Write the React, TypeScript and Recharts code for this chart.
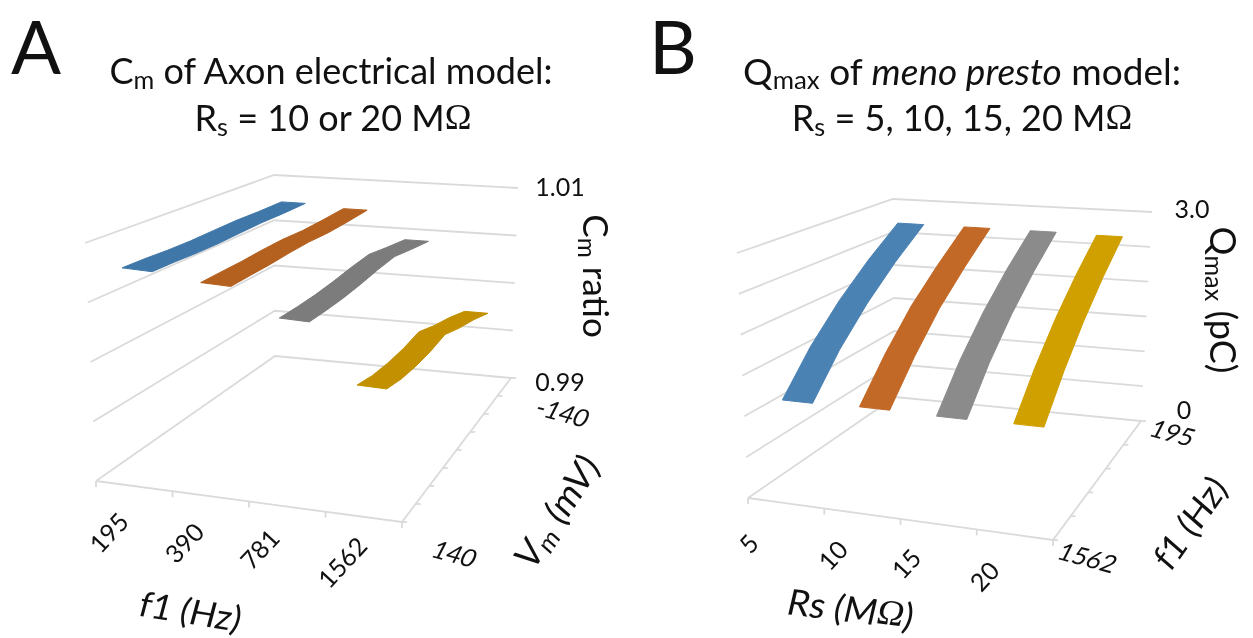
import React from "react";
import { ScatterChart, Scatter, XAxis, YAxis } from "recharts";

const W = 1253;
const H = 638;
const FONT = "Lato, 'Open Sans', sans-serif";

// Panel A data
const f1A = [195, 390, 781, 1562];
const vmA = [-140, -100, -60, -20, 20, 60, 100, 140];
const cm195 = [1.00768, 1.00767, 1.00773, 1.00768, 1.00762, 1.00765, 1.00775, 1.00778];
const cm390 = [1.00738, 1.00731, 1.0073, 1.00745, 1.00745, 1.00738, 1.00739, 1.00738];
const cm781 = [1.00452, 1.005, 1.00551, 1.00541, 1.00522, 1.00512, 1.00513, 1.00521];
const cm1562 = [0.99748, 0.9984, 0.99909, 0.99991, 0.99971, 0.99973, 0.99992, 1.00034];
const cmMin = 0.99;
const cmMax = 1.01;

// Panel B data
const rsB = [5, 10, 15, 20];
const f1B = ["195", "", "", "", "1562"];
const q5 = [2.74, 2.385, 2.01, 1.6, 1.13];
const q10 = [2.74, 2.38, 2.02, 1.6, 1.15];
const q15 = [2.74, 2.39, 2.02, 1.61, 1.14];
const q20 = [2.73, 2.38, 2.01, 1.6, 1.15];
const qMin = 0;
const qMax = 3;

const coloursA = ["#3f77a8", "#b4601f", "#7c7c7c", "#c29000"];
const coloursB = ["#4b82b4", "#c36927", "#8b8b8b", "#d0a000"];

type P = [number, number];
type Box = { fl: P; fr: P; bl: P; br: P; tfl: P; tfr: P; tbl: P; tbr: P };

const boxA: Box = { fl: [96, 481], fr: [402, 522], bl: [275, 356], br: [511, 378], tfl: [85, 243], tfr: [405, 285], tbl: [274, 175], tbr: [518, 188] };
const boxB: Box = { fl: [748, 498], fr: [1053, 540], bl: [895, 397], br: [1141, 421], tfl: [737, 253], tfr: [1068, 278], tbl: [893, 199], tbr: [1152, 212] };

const mix = (a: P, b: P, t: number): P => [a[0] + (b[0] - a[0]) * t, a[1] + (b[1] - a[1]) * t];
const project = (b: Box, u: number, v: number, h: number) => {
  const floor = mix(mix(b.fl, b.fr, u), mix(b.bl, b.br, u), v);
  const top = mix(mix(b.tfl, b.tfr, u), mix(b.tbl, b.tbr, u), v);
  const p = mix(floor, top, h);
  return { x: p[0], y: p[1] };
};

const NoDot = () => <g />;
const GRID = "#dadada";

const seg = (key: string, pts: { x: number; y: number }[], stroke = GRID, width = 1.8) => (
  <Scatter key={key} data={pts} shape={NoDot} isAnimationActive={false} line={{ stroke, strokeWidth: width, fill: "none" }} />
);

const ribbon = (key: string, box: Box, u: number, half: number, vs: number[], hs: number[], colour: string) => {
  const a = vs.map((v, i) => project(box, u - half, v, hs[i]));
  const c = vs.map((v, i) => project(box, u + half, v, hs[i])).reverse();
  return (
    <Scatter
      key={key}
      data={[...a, ...c, a[0]]}
      shape={NoDot}
      isAnimationActive={false}
      line={{ fill: colour, stroke: colour, strokeWidth: 1, strokeLinejoin: "round" }}
    />
  );
};

const mark = (key: string, x: number, y: number, node: React.ReactNode, size: number, rotate = 0, skew = 0) => (
  <Scatter
    key={key}
    data={[{ x, y }]}
    isAnimationActive={false}
    shape={(p: any) => (
      <text
        transform={`translate(${p.cx},${p.cy}) rotate(${rotate}) skewX(${skew})`}
        textAnchor="middle"
        dominantBaseline="central"
        fontFamily={FONT}
        fontSize={size}
        fill="#111"
      >
        {node}
      </text>
    )}
  />
);

const rich = (lead: string, sub: string, rest: React.ReactNode, size: number) => (
  <>
    {lead}
    <tspan dy={size * 0.25} fontSize={size * 0.7}>{sub}</tspan>
    <tspan dy={-size * 0.25}>{rest}</tspan>
  </>
);
const Ohm = () => <tspan fontFamily="'Liberation Serif', serif">Ω</tspan>;

const wall = (prefix: string, box: Box, levels: number) => {
  const out: React.ReactNode[] = [];
  for (let i = 0; i <= levels; i++) {
    const h = i / levels;
    out.push(seg(`${prefix}-l${i}`, [project(box, 0, 0, h), project(box, 0, 1, h), project(box, 1, 1, h)]));
  }
  out.push(seg(`${prefix}-front`, [project(box, 0, 0, 0), project(box, 1, 0, 0), project(box, 1, 1, 0)]));
  return out;
};

const ticks = (prefix: string, box: Box, nu: number, nv: number) => {
  const out: React.ReactNode[] = [];
  for (let i = 0; i <= nu; i++) {
    const p = project(box, i / nu, 0, 0);
    out.push(seg(`${prefix}-tu${i}`, [p, { x: p.x, y: p.y + 6 }]));
  }
  for (let j = 0; j <= nv; j++) {
    const p = project(box, 1, j / nv, 0);
    out.push(seg(`${prefix}-tv${j}`, [p, { x: p.x + 5, y: p.y }]));
  }
  return out;
};

const normA = (v: number) => (v - cmMin) / (cmMax - cmMin);
const normB = (v: number) => (v - qMin) / (qMax - qMin);
const vsA = vmA.map((_, i) => 1 - (i + 0.5) / vmA.length);
const vsB = f1B.map((_, j) => 1 - (j + 0.5) / f1B.length);
const seriesA = [cm195, cm390, cm781, cm1562];
const seriesB = [q5, q10, q15, q20];

const labelOffsetsA: P[] = [[-26, 46], [-27, 46], [-28, 42], [-22, 45]];
const labelOffsetsB: P[] = [[-38, 40], [-30, 41], [-33, 39], [-31, 41]];
const TICK = 25;

export default function App() {
  return (
    <div style={{ position: "absolute", left: 0, top: 0, width: W, height: H, background: "#fff", filter: "blur(0.45px)" }}>
      <ScatterChart width={W} height={H} margin={{ top: 0, right: 0, bottom: 0, left: 0 }}>
        <XAxis type="number" dataKey="x" domain={[0, W]} hide />
        <YAxis type="number" dataKey="y" domain={[0, H]} reversed hide />

        {wall("a", boxA, 4)}
        {ticks("a", boxA, f1A.length, vmA.length)}
        {wall("b", boxB, 6)}
        {ticks("b", boxB, rsB.length, f1B.length)}

        {seriesA.map((s, i) => ribbon(`ra${i}`, boxA, (i + 0.5) / f1A.length, 0.048, vsA, s.map(normA), coloursA[i]))}
        {seriesB.map((s, i) => ribbon(`rb${i}`, boxB, (i + 0.5) / rsB.length, 0.049, vsB, s.map(normB), coloursB[i]))}

        {f1A.map((f, i) => {
          const p = project(boxA, (i + 0.5) / f1A.length, 0, 0);
          return mark(`fa${i}`, p.x + labelOffsetsA[i][0], p.y + labelOffsetsA[i][1], String(f), TICK, -47, 0);
        })}
        {rsB.map((r, i) => {
          const p = project(boxB, (i + 0.5) / rsB.length, 0, 0);
          return mark(`fb${i}`, p.x + labelOffsetsB[i][0], p.y + labelOffsetsB[i][1], String(r), TICK, -47, 0);
        })}
        {(() => {
          const back = project(boxA, 1, 1, 0);
          const front = project(boxA, 1, 0, 0);
          return [
            mark("va0", back.x + 52, back.y + 34, String(vmA[0]), TICK, 15, -12),
            mark("va1", front.x + 53, front.y + 31, String(vmA[vmA.length - 1]), TICK, 15, -12),
          ];
        })()}
        {(() => {
          const back = project(boxB, 1, 1, 0);
          const front = project(boxB, 1, 0, 0);
          return [
            mark("vb0", back.x + 32, back.y + 11, f1B[0], TICK, 15, -12),
            mark("vb1", front.x + 35, front.y + 17, f1B[4], TICK, 15, -12),
          ];
        })()}
        {mark("za1", 560, 186, cmMax.toFixed(2), 25)}
        {mark("za0", 560, 381, cmMin.toFixed(2), 25)}
        {mark("zb1", 1192, 208, qMax.toFixed(1), 25)}
        {mark("zb0", 1184, 409, String(qMin), 25)}

        {mark("panelA", 36, 45, "A", 74)}
        {mark("panelB", 673, 45, "B", 74)}

        {mark("ta1", 331, 70, rich("C", "m", " of Axon electrical model:", 36), 36)}
        {mark("ta2", 333, 117, rich("R", "s", <> = 10 or 20 M<Ohm /></>, 36), 36)}
        {mark("tb1", 962, 70, rich("Q", "max", <> of <tspan fontStyle="italic">meno presto</tspan> model:</>, 37), 37)}
        {mark("tb2", 962, 117, rich("R", "s", <> = 5, 10, 15, 20 M<Ohm /></>, 36), 36)}

        {mark("ya", 597, 276, rich("C", "m", " ratio", 35), 35, 90)}
        {mark("yb", 1224, 300, rich("Q", "max", " (pC)", 36), 36, 90)}
        {mark("xa", 191, 610, "f1 (Hz)", 35, 9, -6)}
        {mark("xb", 851, 608, <>Rs (M<Ohm />)</>, 36, 7, -6)}
        {mark("da", 556, 511, rich("V", "m", " (mV)", 36), 36, -57, -8)}
        {mark("db", 1189, 522, "f1 (Hz)", 35, -55, -6)}
      </ScatterChart>
    </div>
  );
}
